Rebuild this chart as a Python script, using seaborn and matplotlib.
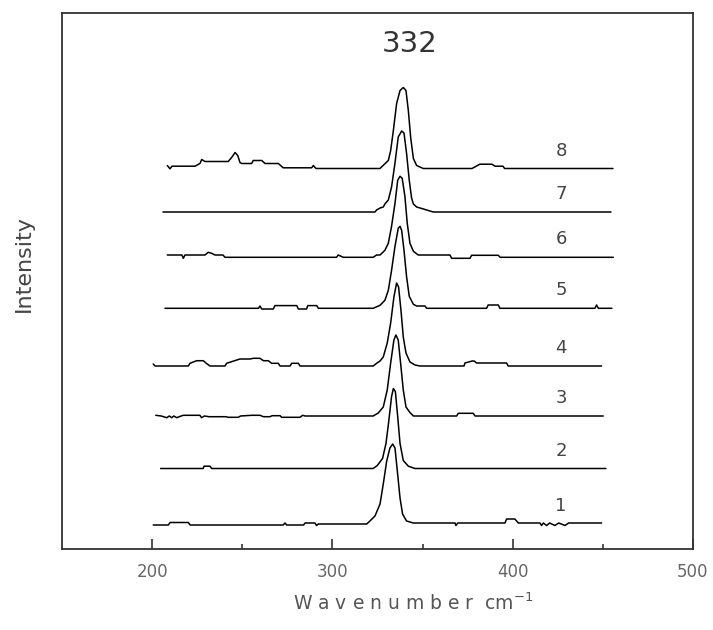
import matplotlib
matplotlib.use("Agg")
import matplotlib.pyplot as plt
import seaborn as sns
from matplotlib.ticker import FixedLocator

sns.set_theme(style="white")
plt.rcParams['font.family'] = ['DejaVu Sans']

# Raman spectra: (wavenumber cm-1, intensity above each trace's own baseline)
trace1 = [(200.6, -1), (209.0, -1), (209.9, 1.5), (220.1, 1.5), (221.0, -1), (272.7, -1),
          (273.7, 1), (274.6, -1), (284.0, -1), (284.8, 1), (290.3, 1), (291.2, -1.5),
          (292.2, 0), (319.0, 0), (320.8, 3), (323.6, 8), (326.4, 20), (328.2, 40),
          (330.1, 63), (331.9, 76), (333.4, 80), (334.7, 76), (336.0, 53), (337.5, 26),
          (338.9, 10), (341.1, 3), (344.9, 1), (368.0, 1), (368.5, -1.5), (369.5, 1),
          (395.7, 1), (396.6, 5), (401.2, 5), (403.1, 1), (415.1, 1), (416.0, -1.5),
          (417.0, 1), (418.8, -1.5), (420.5, 1), (423.4, -1.5), (425.5, 1), (429.0, -1.5),
          (431.0, 1), (449.3, 1)]
trace2 = [(204.7, 0), (228.3, 0), (228.8, 2.3), (232.1, 2.3), (233.0, 0), (322.6, 0),
          (324.9, 3), (327.8, 10), (329.7, 25), (331.1, 45), (332.8, 72), (333.8, 80),
          (334.9, 77), (336.2, 52), (337.5, 25), (339.3, 8), (342.1, 2.3), (345.8, 0),
          (451.7, 0)]
trace3 = [(202.0, 0.7), (205.0, 0), (208.1, -1.7), (209.5, 0), (210.9, -1.7), (212.0, 0),
          (213.7, -1.7), (215.0, -0.7), (217.3, 0.7), (226.5, 0.7), (227.4, -1.7), (229.0, 0),
          (231.5, -0.7), (241.0, -0.7), (242.2, -1.3), (247.8, -1.3), (249.0, 0), (255.2, 0.7),
          (259.8, 0.7), (261.7, -0.7), (265.4, -0.7), (266.5, 0.3), (271.0, 0.3), (271.8, -1.3),
          (282.0, -1.3), (283.5, 0.7), (284.8, 0), (322.6, 0), (325.4, 3), (328.2, 9),
          (330.4, 26), (332.3, 53), (334.1, 76), (335.2, 81), (336.5, 76), (337.8, 53),
          (339.3, 26), (340.8, 9), (343.0, 3.5), (344.9, 0), (368.9, 0), (369.8, 2.7),
          (378.1, 2.7), (379.1, 0), (450.2, 0)]
trace4 = [(200.6, 2), (201.6, 0), (220.1, 0), (221.0, 2.7), (224.7, 5.3), (228.4, 5.3),
          (230.0, 2.7), (232.1, 0), (240.4, 0), (241.3, 2.7), (248.7, 7), (254.3, 7),
          (256.1, 7.7), (259.8, 7.7), (261.7, 5.3), (264.4, 5.3), (266.3, 2.7), (270.0, 2.7),
          (270.9, 0), (276.5, 0), (277.4, 2.7), (281.1, 2.7), (282.0, 0), (322.6, 0),
          (324.5, 2.7), (326.4, 5), (328.2, 9), (330.4, 23), (332.3, 43), (334.1, 69),
          (335.6, 83), (336.7, 79), (338.0, 56), (339.3, 29), (340.8, 13), (343.0, 4),
          (345.8, 1), (348.6, 0), (373.0, 0), (373.5, 3), (377.5, 5), (378.6, 5), (380.0, 3),
          (396.6, 3), (397.5, 0), (449.3, 0)]
trace5 = [(207.1, 0), (259.0, 0), (259.8, 2.3), (260.8, -0.7), (267.2, -0.7), (268.1, 2.7),
          (280.2, 2.7), (281.1, -0.7), (285.7, -0.7), (286.3, 2.7), (291.3, 2.7), (292.2, 0),
          (322.6, 0), (326.4, 3), (329.1, 8), (331.0, 18), (332.8, 38), (334.7, 62),
          (336.5, 80), (337.5, 82), (338.4, 78), (339.7, 58), (341.1, 32), (342.6, 12),
          (344.9, 4), (346.7, 2.3), (351.3, 2.3), (352.3, 0), (385.5, 0), (386.4, 3.3),
          (392.0, 3.3), (392.9, 0), (445.6, 0), (446.5, 3.3), (447.5, 0), (455.0, 0)]
trace6 = [(208.4, 2.3), (216.5, 2.3), (217.3, -1), (218.2, 2.3), (229.3, 2.3), (231.1, 5),
          (233.0, 4), (234.9, 2.3), (239.3, 2.3), (240.4, 0), (302.3, 0), (303.2, 2.3),
          (306.0, 0), (322.6, 0), (324.5, 2.3), (326.4, 2.3), (329.1, 7), (331.0, 14),
          (332.8, 31), (334.7, 54), (336.2, 77), (337.5, 81), (338.7, 79), (340.2, 61),
          (341.5, 34), (343.0, 14), (344.9, 6), (347.6, 2.3), (365.2, 2.3), (366.1, -1),
          (376.3, -1), (377.2, 2), (392.0, 2), (393.0, 0), (455.8, 0)]
trace7 = [(206.0, 0), (323.6, 0), (324.5, 2), (326.4, 4), (328.2, 5), (329.1, 8),
          (331.0, 12), (332.8, 25), (334.7, 49), (336.5, 75), (338.4, 81), (339.7, 79),
          (341.1, 59), (342.6, 32), (343.9, 14), (344.9, 8), (346.7, 5), (348.6, 4),
          (352.3, 2), (355.9, 0), (454.5, 0)]
trace8 = [(208.4, 3), (209.9, -0.3), (211.0, 2.3), (223.8, 2.3), (226.5, 5), (227.5, 9),
          (229.3, 7), (242.2, 7), (244.1, 11), (246.0, 16), (247.5, 13), (248.7, 6),
          (249.7, 5), (255.2, 5), (256.1, 8), (260.8, 8), (262.6, 5), (270.0, 5),
          (272.7, 0.7), (288.5, 0.7), (289.4, 3), (290.9, 0), (326.4, 0), (327.5, 2),
          (331.0, 8), (332.3, 18), (333.8, 38), (335.6, 65), (337.5, 78), (339.3, 81),
          (340.8, 78), (342.1, 58), (343.4, 31), (344.9, 10), (346.7, 3), (350.4, 0),
          (377.4, 0), (381.8, 4.3), (388.5, 4.3), (390.2, 2.3), (394.6, 2.3), (395.5, 0),
          (455.6, 0)]

spectra = [trace1, trace2, trace3, trace4, trace5, trace6, trace7, trace8]
stack_offsets = [25, 80.5, 133, 183, 240.7, 291.7, 337, 380.5]
sample_labels = ["1", "2", "3", "4", "5", "6", "7", "8"]
x_ticks = [200, 300, 400, 500]
x_minor = [250, 350, 450]

fig = plt.figure(figsize=(7.13, 6.30), dpi=100)
ax = fig.add_axes([62 / 713, 1 - 549 / 630, 631 / 713, 536 / 630])

for pts, off, lab in zip(spectra, stack_offsets, sample_labels):
    wn = [p[0] for p in pts]
    inten = [p[1] + off for p in pts]
    sns.lineplot(x=wn, y=inten, ax=ax, color="black", linewidth=1.1,
                 estimator=None, sort=False)
    ax.text(426.8, off + 18, lab, fontsize=13, color="#444444",
            ha="center", va="center")

ax.text(342.7, 505.5, "332", fontsize=21, color="#333333", ha="center", va="center")

ax.set_xlim(150, 500)
ax.set_ylim(0, 536)
ax.xaxis.set_major_locator(FixedLocator(x_ticks))
ax.xaxis.set_minor_locator(FixedLocator(x_minor))
ax.set_yticks([])
ax.tick_params(axis="x", which="major", direction="in", length=7, width=1.2,
               color="#333333", labelcolor="#666666", labelsize=12, pad=10,
               bottom=True, top=False)
ax.tick_params(axis="x", which="minor", direction="in", length=3.5, width=1.2,
               color="#333333", bottom=True, top=False)

for sp in ax.spines.values():
    sp.set_color("#333333")
    sp.set_linewidth(1.3)

ax.set_xlabel("W a v e n u m b e r  cm$^{-1}$", fontsize=13.5, color="#555555", va="center")
ax.xaxis.set_label_coords((413 - 62) / 631, (549 - 603) / 536)
ax.set_ylabel("Intensity", fontsize=16, color="#444444", va="center")
ax.yaxis.set_label_coords((24 - 62) / 631, (549 - 264) / 536)

fig.savefig("out.png", dpi=100)
